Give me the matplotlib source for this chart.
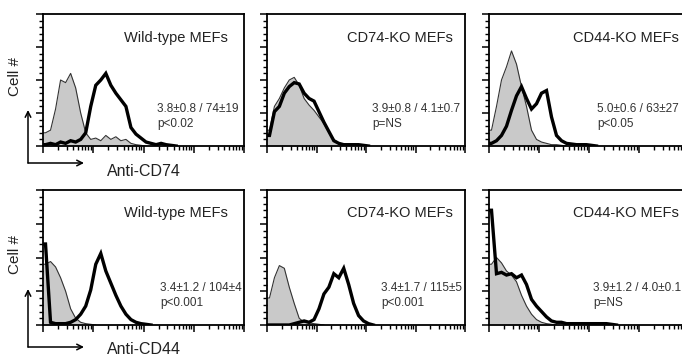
import matplotlib
matplotlib.use('Agg')
import matplotlib.pyplot as plt
from matplotlib.ticker import MultipleLocator, LogLocator, NullFormatter
import numpy as np

plt.rcParams['font.family'] = ['Liberation Sans', 'DejaVu Sans']

# Histogramas (40 canais logaritmicos, 10^0 a 10^4), altura em % do eixo
# Linha superior: Anti-CD74
g_wt_cd74 = [10, 12, 28, 50, 48, 55, 44, 25, 10, 5, 6, 4, 8, 5, 7, 4, 5, 2, 1, 0.5,
             0, 0, 0, 0, 0, 0, 0, 0, 0, 0, 0, 0, 0, 0, 0, 0, 0, 0, 0, 0]
b_wt_cd74 = [1, 2, 1, 3, 2, 4, 3, 5, 10, 30, 46, 50, 55, 46, 40, 35, 30, 14, 9, 6,
             3, 2, 1, 2, 1, 0.5, 0, 0, 0, 0, 0, 0, 0, 0, 0, 0, 0, 0, 0, 0]
g_74ko_cd74 = [12, 30, 36, 44, 50, 52, 46, 36, 31, 27, 22, 17, 10, 5, 2, 1, 0.5, 0, 0, 0,
               0, 0, 0, 0, 0, 0, 0, 0, 0, 0, 0, 0, 0, 0, 0, 0, 0, 0, 0, 0]
b_74ko_cd74 = [8, 26, 30, 40, 45, 48, 47, 40, 36, 34, 26, 18, 11, 4, 2, 1, 1, 1, 1, 0.5,
               0, 0, 0, 0, 0, 0, 0, 0, 0, 0, 0, 0, 0, 0, 0, 0, 0, 0, 0, 0]
g_44ko_cd74 = [12, 30, 50, 60, 72, 62, 45, 30, 12, 5, 3, 2, 1, 1, 0.5, 0, 0, 0, 0, 0,
               0, 0, 0, 0, 0, 0, 0, 0, 0, 0, 0, 0, 0, 0, 0, 0, 0, 0, 0, 0]
b_44ko_cd74 = [2, 4, 8, 15, 27, 38, 45, 36, 28, 32, 40, 42, 22, 8, 4, 2, 1.5, 1, 1, 1,
               0.5, 0, 0, 0, 0, 0, 0, 0, 0, 0, 0, 0, 0, 0, 0, 0, 0, 0, 0, 0]
# Linha inferior: Anti-CD44
g_wt_cd44 = [45, 47, 43, 35, 25, 12, 5, 2, 1, 0.5, 0, 0, 0, 0, 0, 0, 0, 0, 0, 0,
             0, 0, 0, 0, 0, 0, 0, 0, 0, 0, 0, 0, 0, 0, 0, 0, 0, 0, 0, 0]
b_wt_cd44 = [60, 2, 1, 1, 1, 2, 4, 8, 14, 26, 45, 53, 40, 31, 22, 14, 8, 4, 2, 1,
             0.5, 0, 0, 0, 0, 0, 0, 0, 0, 0, 0, 0, 0, 0, 0, 0, 0, 0, 0, 0]
g_74ko_cd44 = [20, 35, 44, 42, 28, 16, 5, 2, 1.5, 1, 0.5, 0, 0, 0, 0, 0, 0, 0, 0, 0,
               0, 0, 0, 0, 0, 0, 0, 0, 0, 0, 0, 0, 0, 0, 0, 0, 0, 0, 0, 0]
b_74ko_cd44 = [0, 0, 0, 0, 0, 1, 2, 3, 2, 4, 12, 23, 28, 38, 35, 42, 30, 16, 7, 3,
               1, 0, 0, 0, 0, 0, 0, 0, 0, 0, 0, 0, 0, 0, 0, 0, 0, 0, 0, 0]
g_44ko_cd44 = [45, 50, 46, 40, 37, 32, 22, 14, 8, 4, 2, 1, 0.5, 0, 0, 0, 0, 0, 0, 0,
               0, 0, 0, 0, 0, 0, 0, 0, 0, 0, 0, 0, 0, 0, 0, 0, 0, 0, 0, 0]
b_44ko_cd44 = [85, 38, 39, 37, 38, 35, 37, 30, 19, 14, 10, 6, 3, 2, 2, 1, 1, 1, 1, 1,
               1, 1, 1, 1, 0.5, 0, 0, 0, 0, 0, 0, 0, 0, 0, 0, 0, 0, 0, 0, 0]

titles = ['Wild-type MEFs', 'CD74-KO MEFs', 'CD44-KO MEFs']
stats_cd74 = [('3.8±0.8 / 74±19', 'p<0.02'), ('3.9±0.8 / 4.1±0.7', 'p=NS'), ('5.0±0.6 / 63±27', 'p<0.05')]
stats_cd44 = [('3.4±1.2 / 104±4', 'p<0.001'), ('3.4±1.7 / 115±5', 'p<0.001'), ('3.9±1.2 / 4.0±0.1', 'p=NS')]

grays = [[g_wt_cd74, g_74ko_cd74, g_44ko_cd74], [g_wt_cd44, g_74ko_cd44, g_44ko_cd44]]
blacks = [[b_wt_cd74, b_74ko_cd74, b_44ko_cd74], [b_wt_cd44, b_74ko_cd44, b_44ko_cd44]]

W, H = 682, 356
fig = plt.figure(figsize=(W / 100, H / 100), dpi=100)

# centros dos canais, com o canal 0 encostado no eixo
centers = 10 ** (np.linspace(0, 4, 41)[:-1] + 0.05)
xs = np.concatenate([[1.0], centers])


def curve(vals):
    v = np.asarray(vals, dtype=float)
    last = np.nonzero(v)[0].max() + 2
    return xs[:last + 1], np.concatenate([[0.0], v])[:last + 1]


col_x = [(43, 201), (267, 198), (489, 205)]
row_y = [(14, 132), (190, 135)]

for r in range(2):
    for c in range(3):
        x0, w = col_x[c]
        y0, h = row_y[r]
        ax = fig.add_axes([x0 / W, 1 - (y0 + h) / H, w / W, h / H])
        gx, gy = curve(grays[r][c])
        bx, by = curve(blacks[r][c])
        gy[0] = gy[1]
        by[0] = by[1]
        ax.fill_between(gx, gy, 0, color='#c9c9c9', lw=0, zorder=1)
        ax.plot(gx, gy, color='#333333', lw=0.8, zorder=2)
        ax.plot(bx, by, color='black', lw=2.4, zorder=3, solid_joinstyle='miter')
        ax.set_xscale('log')
        ax.set_xlim(1, 1e4 if c < 2 else 10 ** 4.1)
        ax.set_ylim(0, 100)
        ax.xaxis.set_major_locator(LogLocator(base=10, numticks=10))
        ax.xaxis.set_minor_locator(LogLocator(base=10, subs=np.arange(2, 10), numticks=50))
        ax.xaxis.set_minor_formatter(NullFormatter())
        ax.yaxis.set_major_locator(MultipleLocator(25))
        ax.yaxis.set_minor_locator(MultipleLocator(5))
        ax.set_xticklabels([])
        ax.set_yticklabels([])
        ax.tick_params(which='major', direction='out', length=5, width=1.1)
        ax.tick_params(which='minor', direction='out', length=3, width=1.0)
        for s in ax.spines.values():
            s.set_linewidth(1.3)

# Camada de texto e setas (coordenadas em pixels)
ov = fig.add_axes([0, 0, 1, 1], zorder=10)
ov.set_xlim(0, W)
ov.set_ylim(H, 0)
ov.axis('off')
ov.patch.set_alpha(0)

title_x = [124, 347, 573]
stat_x = [[157, 372, 597], [160, 381, 593]]
title_y = [38, 213]
stat_y = [[109, 124], [288, 303]]
all_stats = [stats_cd74, stats_cd44]

for r in range(2):
    for c in range(3):
        ov.text(title_x[c], title_y[r], titles[c], fontsize=10.5, color='#222222', va='center', ha='left')
        s1, s2 = all_stats[r][c]
        ov.text(stat_x[r][c], stat_y[r][0], s1, fontsize=8.5, color='#333333', va='center', ha='left')
        ov.text(stat_x[r][c], stat_y[r][1], s2, fontsize=8.5, color='#333333', va='center', ha='left')

arrow = dict(arrowstyle='->', lw=1.1, color='black', shrinkA=0, shrinkB=0)
for (yb, yt, ycell, xlab, ylab) in [(163, 110, 77, 'Anti-CD74', 172), (347, 289, 255, 'Anti-CD44', 350)]:
    ov.annotate('', xy=(28, yt), xytext=(28, yb), arrowprops=arrow)
    ov.annotate('', xy=(84, yb), xytext=(28, yb), arrowprops=arrow)
    ov.text(15, ycell, 'Cell #', rotation=90, fontsize=11, va='center', ha='center', color='#222222')
    ov.text(144, ylab, xlab, fontsize=11.5, va='center', ha='center', color='#222222')

plt.savefig('out.png', dpi=100)
